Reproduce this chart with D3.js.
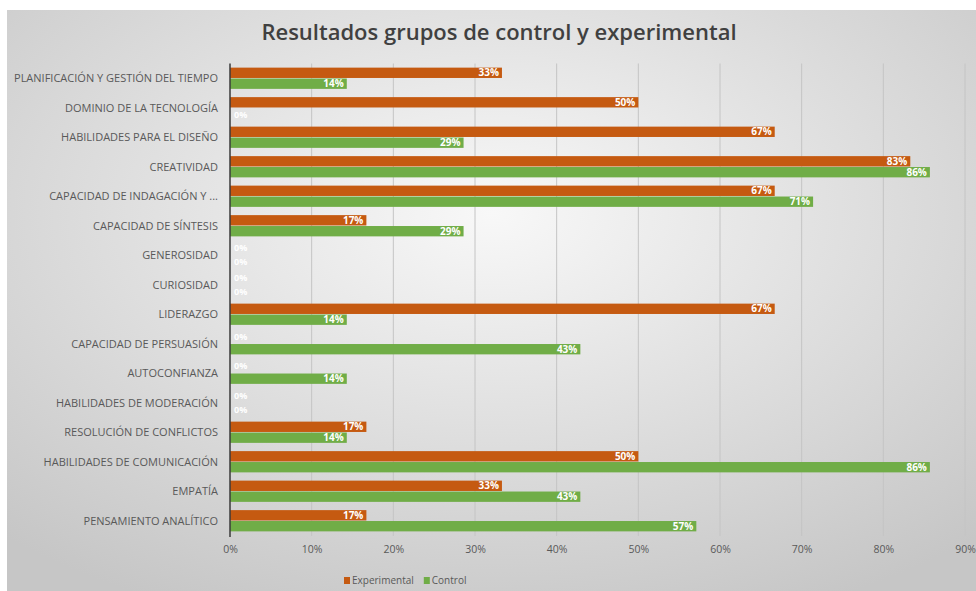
<!DOCTYPE html>
<html lang="es">
<head>
<meta charset="UTF-8">
<title>Resultados grupos de control y experimental</title>
<script src="https://d3js.org/d3.v7.min.js"></script>
<style>
    body { margin: 0; background: #fff; }
    text { font-family: "Open Sans", "DejaVu Sans", sans-serif; }
</style>
</head>
<body>
<svg width="976" height="591"></svg>
<script>
    // datos (porcentajes)
    var categorias = [
        "PLANIFICACIÓN Y GESTIÓN DEL TIEMPO",
        "DOMINIO DE LA TECNOLOGÍA",
        "HABILIDADES PARA EL DISEÑO",
        "CREATIVIDAD",
        "CAPACIDAD DE INDAGACIÓN Y ...",
        "CAPACIDAD DE SÍNTESIS",
        "GENEROSIDAD",
        "CURIOSIDAD",
        "LIDERAZGO",
        "CAPACIDAD DE PERSUASIÓN",
        "AUTOCONFIANZA",
        "HABILIDADES DE MODERACIÓN",
        "RESOLUCIÓN DE CONFLICTOS",
        "HABILIDADES DE COMUNICACIÓN",
        "EMPATÍA",
        "PENSAMIENTO ANALÍTICO"
    ];
    var experimental = [33.3, 50, 66.7, 83.3, 66.7, 16.7, 0, 0, 66.7, 0, 0, 0, 16.7, 50, 33.3, 16.7];
    var control      = [14.3, 0, 28.6, 85.7, 71.4, 28.6, 0, 0, 14.3, 42.9, 14.3, 0, 14.3, 85.7, 42.9, 57.1];
    var series = ["Experimental", "Control"];
    var colores = ["#c55a11", "#70ad47"];
    var ticks = [0, 10, 20, 30, 40, 50, 60, 70, 80, 90];

    var svg = d3.select("svg");

    // fondo degradado
    var defs = svg.append("defs");
    var grad = defs.append("radialGradient")
        .attr("id", "fondo")
        .attr("cx", "50%").attr("cy", "35%").attr("r", "75%");
    grad.append("stop").attr("offset", "0%").attr("stop-color", "#f8f8f8");
    grad.append("stop").attr("offset", "100%").attr("stop-color", "#c6c6c6");

    svg.append("rect")
        .attr("x", 7).attr("y", 10)
        .attr("width", 969).attr("height", 581)
        .attr("fill", "url(#fondo)");

    // título
    svg.append("text")
        .attr("x", 499).attr("y", 40)
        .attr("text-anchor", "middle")
        .attr("font-size", 22)
        .attr("font-weight", 600)
        .attr("fill", "#404040")
        .text("Resultados grupos de control y experimental");

    var x = d3.scaleLinear().domain([0, 90]).range([230, 965]);
    var y = d3.scaleBand().domain(categorias).range([63.5, 535.5]).paddingInner(0.28).paddingOuter(0.14);
    var ySub = d3.scaleBand().domain(series).range([0, y.bandwidth()]).paddingInner(0.05);

    // líneas de cuadrícula
    svg.append("g")
        .selectAll("line")
        .data(ticks.slice(1))
        .enter()
        .append("line")
        .attr("x1", function(d) { return x(d); })
        .attr("x2", function(d) { return x(d); })
        .attr("y1", 63.5)
        .attr("y2", 536)
        .attr("stroke", "#c4c4c4")
        .attr("stroke-width", 1);

    // eje x
    var xAxis = svg.append("g")
        .attr("transform", "translate(0,536)")
        .call(d3.axisBottom(x).tickValues(ticks).tickSize(0).tickPadding(10).tickFormat(function(d) { return d + "%"; }));
    xAxis.select(".domain").remove();
    xAxis.selectAll("text")
        .attr("font-size", 10.5)
        .attr("fill", "#595959")
        .style("font-family", "'Open Sans', sans-serif");

    // etiquetas de categoría
    svg.append("g")
        .selectAll("text")
        .data(categorias)
        .enter()
        .append("text")
        .attr("x", 218)
        .attr("y", function(d) { return y(d) + y.bandwidth() / 2; })
        .attr("dy", "0.35em")
        .attr("text-anchor", "end")
        .attr("font-size", 11)
        .attr("fill", "#595959")
        .text(function(d) { return d; });

    // barras
    var filas = categorias.map(function(c, i) {
        return { cat: c, valores: [experimental[i], control[i]] };
    });

    var grupos = svg.append("g")
        .selectAll("g")
        .data(filas)
        .enter()
        .append("g")
        .attr("transform", function(d) { return "translate(0," + y(d.cat) + ")"; });

    grupos.selectAll("rect")
        .data(function(d) { return d.valores.map(function(v, j) { return { s: series[j], v: v, j: j }; }); })
        .enter()
        .append("rect")
        .attr("x", x(0))
        .attr("y", function(d) { return ySub(d.s); })
        .attr("width", function(d) { return x(d.v) - x(0); })
        .attr("height", ySub.bandwidth())
        .attr("fill", function(d) { return colores[d.j]; });

    // etiquetas de valor; las de 0% se separan un poco para no pisarse
    grupos.selectAll("text")
        .data(function(d) { return d.valores.map(function(v, j) { return { s: series[j], v: v, j: j }; }); })
        .enter()
        .append("text")
        .attr("x", function(d) { return d.v > 0 ? x(d.v) - 3 : x(0) + 4; })
        .attr("y", function(d) {
            var yc = ySub(d.s) + ySub.bandwidth() / 2;
            if (d.v === 0) yc += d.j === 0 ? -1.5 : 1.5;
            return yc;
        })
        .attr("dy", "0.35em")
        .attr("text-anchor", function(d) { return d.v > 0 ? "end" : "start"; })
        .attr("font-size", function(d) { return d.v > 0 ? 10 : 9; })
        .attr("font-weight", "bold")
        .attr("fill", "#ffffff")
        .text(function(d) { return Math.round(d.v) + "%"; });

    // eje vertical
    svg.append("line")
        .attr("x1", x(0)).attr("x2", x(0))
        .attr("y1", 63.5).attr("y2", 537)
        .attr("stroke", "#3a3a3a")
        .attr("stroke-width", 1.5);

    // leyenda
    var leyenda = svg.append("g").attr("transform", "translate(0,577)");
    var posX = 344;
    series.forEach(function(s, i) {
        leyenda.append("rect")
            .attr("x", posX).attr("y", 0)
            .attr("width", 6).attr("height", 7)
            .attr("fill", colores[i]);
        var t = leyenda.append("text")
            .attr("x", posX + 8).attr("y", 3.5)
            .attr("dy", "0.35em")
            .attr("font-size", 10)
            .attr("fill", "#595959")
            .text(s);
        posX += 8 + t.node().getComputedTextLength() + 10;
    });
</script>
</body>
</html>
